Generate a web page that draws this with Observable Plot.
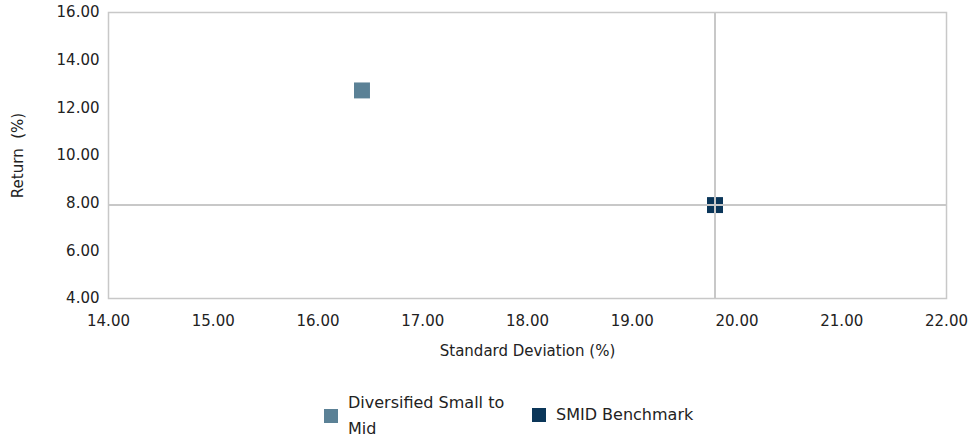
<!DOCTYPE html>
<html>
<head>
<meta charset="utf-8">
<script src="https://cdn.jsdelivr.net/npm/d3@7"></script>
<script src="https://cdn.jsdelivr.net/npm/@observablehq/plot@0.6"></script>
<style>
  body { margin: 0; background: #fff; font-family: "DejaVu Sans", sans-serif; }
  #chart { width: 972px; }
  .legend { position: relative; width: 972px; height: 70px; font-size: 16px; color: #222; }
  .item { position: absolute; display: flex; align-items: center; }
  .sw { width: 14px; height: 14px; margin-right: 10px; flex: none; }
  .lbl { line-height: 26px; }
</style>
</head>
<body>
<div id="chart"></div>
<div class="legend" id="legend"></div>
<script>
const series = ["Diversified Small to Mid", "SMID Benchmark"];
const stdDev = [16.42, 19.79];
const returns = [12.73, 7.92];
const colors = ["#5B8196", "#0B3659"];
const xTicks = [14, 15, 16, 17, 18, 19, 20, 21, 22];
const yTicks = [4, 6, 8, 10, 12, 14, 16];

const data = series.map((s, i) => ({ name: s, x: stdDev[i], y: returns[i] }));
const bench = data[1];

const plot = Plot.plot({
  width: 972,
  height: 370,
  marginLeft: 108,
  marginRight: 26,
  marginTop: 12,
  marginBottom: 72,
  style: { fontFamily: "DejaVu Sans, sans-serif", fontSize: "14px", color: "#222" },
  x: { domain: [14, 22], ticks: xTicks, tickFormat: d => d.toFixed(2), label: null },
  y: { domain: [4, 16], ticks: yTicks, tickFormat: d => d.toFixed(2), label: null },
  color: { domain: series, range: colors },
  marks: [
    Plot.dot(data, { x: "x", y: "y", symbol: "square", r: 9, fill: "name", stroke: "none" }),
    Plot.ruleX([bench.x], { stroke: "#c8c8c8", strokeWidth: 2 }),
    Plot.ruleY([bench.y], { stroke: "#c8c8c8", strokeWidth: 2 }),
    Plot.frame({ stroke: "#c8c8c8", strokeWidth: 1.5 }),
    Plot.axisX({ ticks: xTicks, tickSize: 0, tickPadding: 17, tickFormat: d => d.toFixed(2), label: null, fontSize: 15 }),
    Plot.axisY({ ticks: yTicks, tickSize: 0, tickPadding: 9, tickFormat: d => d.toFixed(2), label: null, fontSize: 15 }),
    Plot.text(["Standard Deviation (%)"], { frameAnchor: "bottom", dy: 57, fontSize: 15, fill: "#222" }),
    Plot.text(["Return  (%)"], { frameAnchor: "left", textAnchor: "middle", dx: -90, rotate: -90, fontSize: 15, fill: "#222" })
  ]
});
document.getElementById("chart").appendChild(plot);

const legend = document.getElementById("legend");
const pos = [{ left: 324, top: 20, w: 175 }, { left: 532, top: 32, w: 220 }];
series.forEach((s, i) => {
  const it = document.createElement("div");
  it.className = "item";
  it.style.left = pos[i].left + "px";
  it.style.top = pos[i].top + "px";
  const sw = document.createElement("div");
  sw.className = "sw";
  sw.style.background = colors[i];
  const lb = document.createElement("div");
  lb.className = "lbl";
  lb.style.maxWidth = pos[i].w + "px";
  lb.textContent = s;
  it.appendChild(sw);
  it.appendChild(lb);
  legend.appendChild(it);
});
</script>
</body>
</html>
